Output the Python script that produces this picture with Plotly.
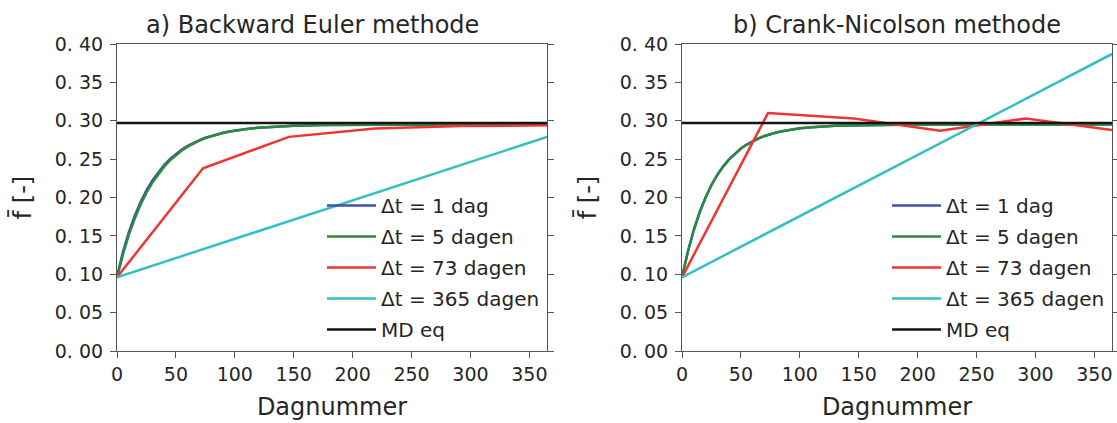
import plotly.graph_objects as go
from plotly.subplots import make_subplots

# ---------------- data ----------------
t_fine = [0, 5, 10, 15, 20, 25, 30, 35, 40, 45, 50, 55, 60, 65, 70, 75, 80, 85, 90, 95,
          100, 110, 120, 130, 140, 150, 175, 200, 250, 300, 365]

be_1 = [0.0960, 0.1290, 0.1545, 0.1760, 0.1940, 0.2093, 0.2222, 0.2330, 0.2423, 0.2502,
        0.2568, 0.2625, 0.2673, 0.2713, 0.2748, 0.2778, 0.2803, 0.2825, 0.2843, 0.2859,
        0.2872, 0.2894, 0.2910, 0.2921, 0.2929, 0.2935, 0.2944, 0.2947, 0.2950, 0.2950, 0.2950]
be_5 = [0.0960, 0.1256, 0.1509, 0.1723, 0.1906, 0.2062, 0.2194, 0.2306, 0.2402, 0.2484,
        0.2553, 0.2612, 0.2663, 0.2705, 0.2742, 0.2773, 0.2799, 0.2822, 0.2841, 0.2857,
        0.2871, 0.2893, 0.2909, 0.2920, 0.2928, 0.2934, 0.2943, 0.2947, 0.2950, 0.2950, 0.2950]

cn_1 = [0.0960, 0.1296, 0.1576, 0.1808, 0.2001, 0.2162, 0.2295, 0.2406, 0.2497, 0.2574,
        0.2638, 0.2690, 0.2734, 0.2771, 0.2801, 0.2826, 0.2847, 0.2864, 0.2879, 0.2891,
        0.2901, 0.2916, 0.2927, 0.2934, 0.2939, 0.2942, 0.2948, 0.2950, 0.2950, 0.2950, 0.2950]
cn_5 = [0.0960, 0.1296, 0.1576, 0.1808, 0.2001, 0.2162, 0.2295, 0.2406, 0.2497, 0.2574,
        0.2638, 0.2690, 0.2734, 0.2771, 0.2801, 0.2826, 0.2847, 0.2864, 0.2879, 0.2891,
        0.2901, 0.2916, 0.2927, 0.2934, 0.2939, 0.2942, 0.2948, 0.2950, 0.2950, 0.2950, 0.2950]

t_73 = [0, 73, 146, 219, 292, 365]
be_73 = [0.096, 0.238, 0.279, 0.290, 0.293, 0.294]
cn_73 = [0.096, 0.310, 0.303, 0.287, 0.303, 0.288]

t_365 = [0, 365]
be_365 = [0.096, 0.279]
cn_365 = [0.096, 0.387]

t_eq = [0, 365]
md_eq = [0.297, 0.297]

series_names = ["Δt = 1 dag", "Δt = 5 dagen", "Δt = 73 dagen", "Δt = 365 dagen", "MD eq"]
titles = ["a) Backward Euler methode", "b) Crank-Nicolson methode"]
x_ticks = [0, 50, 100, 150, 200, 250, 300, 350]
y_ticks = [0.00, 0.05, 0.10, 0.15, 0.20, 0.25, 0.30, 0.35, 0.40]
y_ticktext = ["0. 00", "0. 05", "0. 10", "0. 15", "0. 20", "0. 25", "0. 30", "0. 35", "0. 40"]
x_label = "Dagnummer"
y_label = "f\u0304 [-]"

# ---------------- styling ----------------
colors = ["#4151B0", "#2C8A3E", "#EF3434", "#34BFC0", "#151515"]
FONT = "DejaVu Sans"
TXT = "#262626"
SPINE = "#555555"

W, H = 1117, 423
ML, MR, MT, MB = 117, 5, 44, 72
plot_w = W - ML - MR
plot_h = H - MT - MB
dom1 = [0.0, 430 / plot_w]
dom2 = [1 - 430 / plot_w, 1.0]

fig = make_subplots(rows=1, cols=2)
fig.update_xaxes(domain=dom1, row=1, col=1)
fig.update_xaxes(domain=dom2, row=1, col=2)

panels = [
    ([(t_fine, be_1), (t_fine, be_5), (t_73, be_73), (t_365, be_365), (t_eq, md_eq)], "legend", "L"),
    ([(t_fine, cn_1), (t_fine, cn_5), (t_73, cn_73), (t_365, cn_365), (t_eq, md_eq)], "legend2", "R"),
]
for col, (data, leg, tag) in enumerate(panels, start=1):
    for i, (xs, ys) in enumerate(data):
        fig.add_trace(go.Scatter(
            x=xs, y=ys, mode="lines", name=series_names[i],
            line=dict(color=colors[i], width=2.5),
            legend=leg, legendgroup=f"{tag}{i}", showlegend=True,
        ), row=1, col=col)

for col in (1, 2):
    fig.update_xaxes(
        range=[0, 365], tickvals=x_ticks, ticks="outside", ticklen=6, tickwidth=1.2,
        tickcolor=SPINE, showline=True, linecolor=SPINE, linewidth=1.2, mirror=True,
        showgrid=False, zeroline=False, automargin=False,
        tickfont=dict(family=FONT, size=19, color=TXT),
        title=dict(text=x_label, font=dict(family=FONT, size=24, color=TXT), standoff=14),
        row=1, col=col)
    fig.update_yaxes(
        range=[0, 0.40], tickvals=y_ticks, ticktext=y_ticktext, ticks="outside", ticklen=6,
        tickwidth=1.2, tickcolor=SPINE, showline=True, linecolor=SPINE, linewidth=1.2,
        mirror="ticks", showgrid=False, zeroline=False, automargin=False,
        ticklabelstandoff=3,
        tickfont=dict(family=FONT, size=19, color=TXT),
        title=dict(text=y_label, font=dict(family=FONT, size=24, color=TXT), standoff=16),
        row=1, col=col)

legend_style = dict(
    font=dict(family=FONT, size=20, color=TXT), bgcolor="rgba(0,0,0,0)",
    borderwidth=0, traceorder="grouped", tracegroupgap=2,
    xanchor="left", yanchor="bottom", itemwidth=49,
)
fig.update_layout(
    legend=dict(x=205 / plot_w, y=2 / plot_h, **legend_style),
    legend2=dict(x=770 / plot_w, y=2 / plot_h, **legend_style),
)

title_shift = [-20, 0]
for dom, txt, xs in zip((dom1, dom2), titles, title_shift):
    fig.add_annotation(text=txt, x=(dom[0] + dom[1]) / 2, y=1.0, xref="paper", yref="paper",
                       xanchor="center", yanchor="bottom", yshift=3, xshift=xs, showarrow=False,
                       font=dict(family=FONT, size=24, color=TXT))

fig.update_layout(
    width=W, height=H,
    margin=dict(l=ML, r=MR, t=MT, b=MB, autoexpand=False),
    paper_bgcolor="white", plot_bgcolor="white",
    font=dict(family=FONT, color=TXT),
)

# remove the browser's default 8 px page margin so the figure fills the window exactly
fig.write_html("out.html",
               config={"displayModeBar": False},
               post_script="document.body.style.margin='0px';"
                           "document.body.style.overflow='hidden';")
